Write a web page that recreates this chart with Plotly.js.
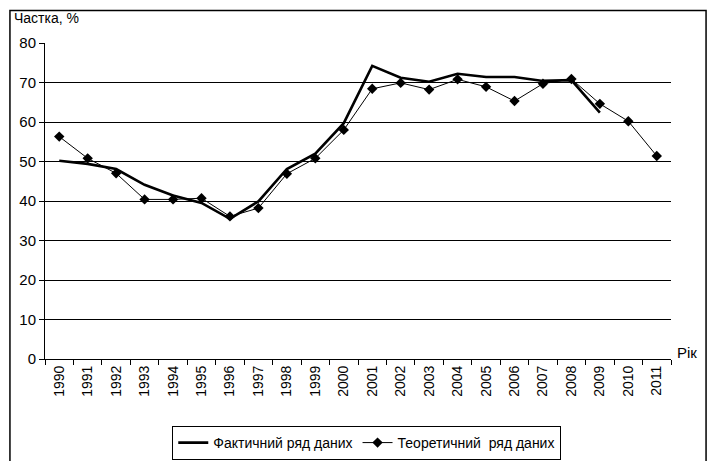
<!DOCTYPE html>
<html>
<head>
<meta charset="utf-8">
<script src="https://cdn.plot.ly/plotly-3.0.1.min.js"></script>
<style>
  body { margin: 0; background: #fff; }
  #chart { width: 720px; height: 461px; }
</style>
</head>
<body>
<div id="chart"></div>
<script>
// роки
var years = ['1990', '1991', '1992', '1993', '1994', '1995', '1996', '1997', '1998', '1999', '2000',
             '2001', '2002', '2003', '2004', '2005', '2006', '2007', '2008', '2009', '2010', '2011'];

// фактичний ряд (до 2009)
var actual = [50.2, 49.4, 48.1, 44.1, 41.4, 39.5, 35.5, 39.9, 48.1, 52.0, 59.7,
              74.2, 71.2, 70.2, 72.2, 71.4, 71.4, 70.4, 70.6, 62.4, null, null];

// теоретичний ряд
var theoretical = [56.3, 50.8, 47.0, 40.4, 40.4, 40.7, 36.1, 38.2, 46.9, 50.8, 58.0,
                   68.4, 69.9, 68.2, 70.8, 68.9, 65.3, 69.7, 70.9, 64.6, 60.2, 51.4];

var yTicks = [0, 10, 20, 30, 40, 50, 60, 70, 80];

var fact = {
    x: years,
    y: actual,
    name: 'Фактичний ряд даних',
    mode: 'lines',
    type: 'scatter',
    line: {color: '#000', width: 2.6},
    connectgaps: false
};

var theor = {
    x: years,
    y: theoretical,
    name: 'Теоретичний  ряд даних',
    mode: 'lines+markers',
    type: 'scatter',
    line: {color: '#000', width: 1},
    marker: {symbol: 'diamond', size: 8, color: '#000'}
};

var layout = {
    width: 720,
    height: 461,
    margin: {l: 45, r: 49, t: 43, b: 102, autoexpand: false},
    paper_bgcolor: '#fff',
    plot_bgcolor: '#fff',
    font: {family: 'Liberation Sans, Arial, sans-serif', size: 14, color: '#000'},
    showlegend: true,
    legend: {
        orientation: 'h',
        x: 0.514, xanchor: 'center',
        y: -0.212, yanchor: 'top',
        bordercolor: '#000', borderwidth: 1,
        font: {size: 14},
        itemwidth: 30,
        traceorder: 'normal'
    },
    xaxis: {
        type: 'category',
        range: [-0.5, years.length - 0.5],
        tickangle: -90,
        tickson: 'boundaries',
        ticks: 'outside',
        ticklen: 5,
        tickcolor: '#000',
        showline: true,
        linecolor: '#000',
        linewidth: 1,
        showgrid: false,
        zeroline: false,
        tickfont: {size: 14},
        fixedrange: true
    },
    yaxis: {
        range: [0, 80],
        tickvals: yTicks,
        ticks: 'outside',
        ticklen: 5,
        tickcolor: '#000',
        showline: true,
        linecolor: '#000',
        linewidth: 1,
        gridcolor: '#000',
        gridwidth: 1,
        zeroline: false,
        tickfont: {size: 15},
        fixedrange: true
    },
    annotations: [
        {text: 'Частка, %', xref: 'paper', yref: 'paper', x: -0.053, y: 1.08,
         xanchor: 'left', yanchor: 'middle', showarrow: false, font: {size: 14}},
        {text: 'Рік', xref: 'paper', yref: 'paper', x: 1.006, y: 0.02,
         xanchor: 'left', yanchor: 'middle', showarrow: false, font: {size: 15}}
    ],
    shapes: [
        {type: 'rect', xref: 'paper', yref: 'paper',
         x0: -0.056, x1: 1.056, y0: -0.4, y1: 1.103,
         line: {color: '#000', width: 1.5}, fillcolor: 'rgba(0,0,0,0)', layer: 'below'}
    ]
};

Plotly.newPlot('chart', [fact, theor], layout, {displayModeBar: false, staticPlot: true});
</script>
</body>
</html>
